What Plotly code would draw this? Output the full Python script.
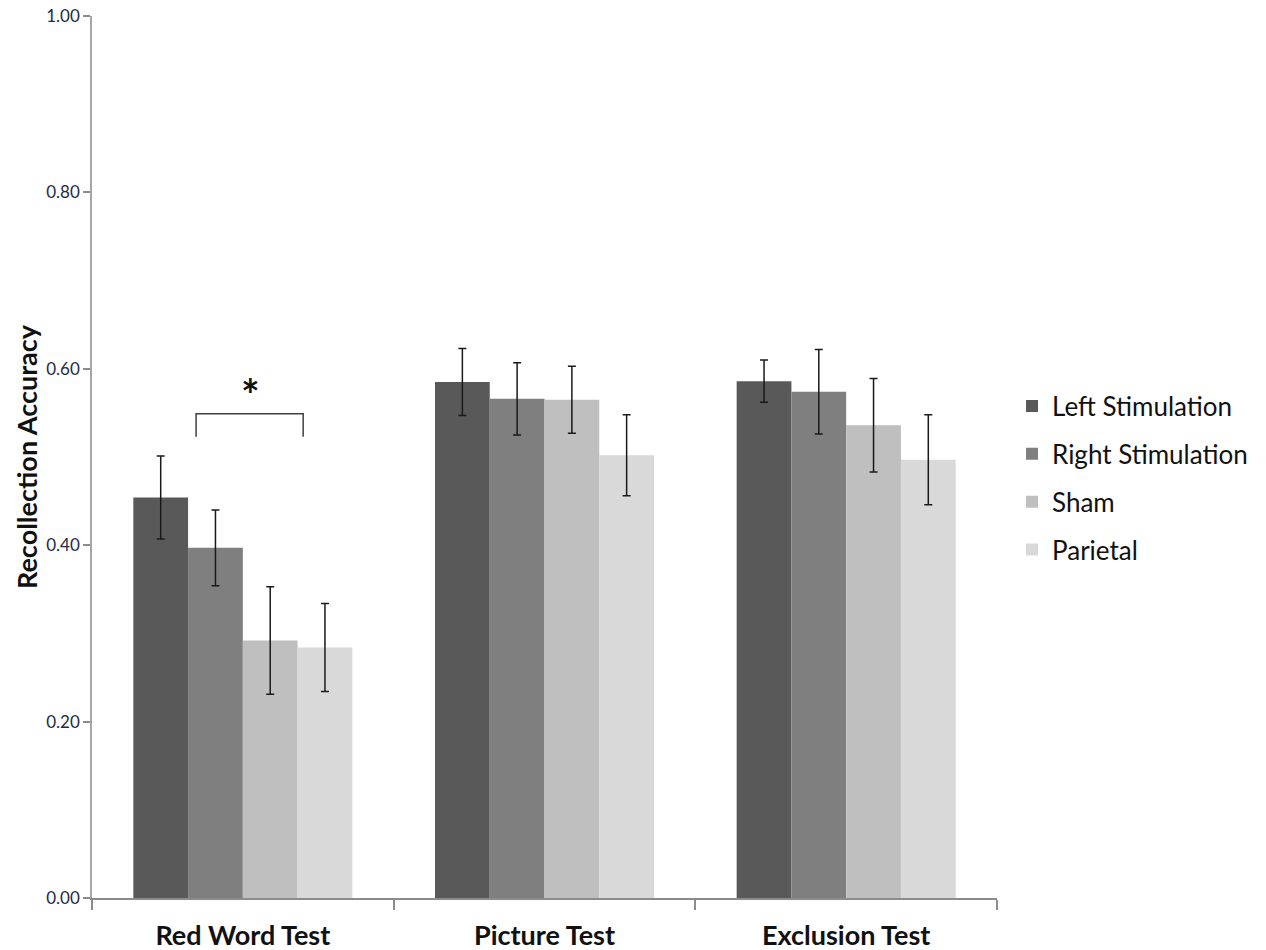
import plotly.graph_objects as go

# Test conditions and stimulation groups
tests = ["Red Word Test", "Picture Test", "Exclusion Test"]
groups = ["Left Stimulation", "Right Stimulation", "Sham", "Parietal"]

# Mean recollection accuracy per group (one value per test)
left_mean = [0.454, 0.585, 0.586]
right_mean = [0.397, 0.566, 0.574]
sham_mean = [0.292, 0.565, 0.536]
parietal_mean = [0.284, 0.502, 0.497]

# Standard error per group
left_se = [0.047, 0.038, 0.024]
right_se = [0.043, 0.041, 0.048]
sham_se = [0.061, 0.038, 0.053]
parietal_se = [0.050, 0.046, 0.051]

means = [left_mean, right_mean, sham_mean, parietal_mean]
errors = [left_se, right_se, sham_se, parietal_se]
colors = ["#595959", "#7f7f7f", "#bfbfbf", "#d9d9d9"]

FONT = "Lato"

fig = go.Figure()
for name, m, e, c in zip(groups, means, errors, colors):
    fig.add_trace(go.Bar(
        name=name,
        x=tests,
        y=m,
        legendgroup=name,
        marker=dict(color=c, line=dict(width=0)),
        error_y=dict(type="data", array=e, visible=True,
                     color="#1a1a1a", thickness=1.5, width=4),
    ))

# Significance bracket over the Red Word Test groups
fig.add_shape(type="path", xref="x", yref="y",
              path="M -0.155,0.523 L -0.155,0.549 L 0.2,0.549 L 0.2,0.523",
              line=dict(color="#404040", width=1.5))
fig.add_annotation(x=0.025, y=0.571, xref="x", yref="y", text="<b>*</b>",
                   showarrow=False, font=dict(family=FONT, size=44, color="#111111"))

fig.update_layout(
    width=1266, height=950,
    margin=dict(l=92, r=269, t=16, b=52, autoexpand=False),
    paper_bgcolor="white", plot_bgcolor="white",
    barmode="group", bargap=0.274, bargroupgap=0,
    font=dict(family=FONT, color="#1a1a1a"),
    showlegend=True,
    legend=dict(x=1.0166, y=0.476, xanchor="left", yanchor="middle",
                font=dict(family=FONT, size=26, color="#111111"),
                traceorder="grouped", tracegroupgap=11,
                bgcolor="rgba(0,0,0,0)"),
    xaxis=dict(showline=True, linecolor="#8c8c8c", linewidth=1.5,
               ticks="outside", tickson="boundaries", ticklen=10,
               tickcolor="#8c8c8c", tickwidth=1.5, automargin=False,
               tickfont=dict(family=FONT, size=27, color="#111111", weight="bold"),
               ticklabelstandoff=13,
               showgrid=False, zeroline=False),
    yaxis=dict(range=[0, 1], tickvals=[0, 0.2, 0.4, 0.6, 0.8, 1.0],
               tickformat=".2f", showline=True, linecolor="#a6a6a6", linewidth=1.5,
               ticks="outside", ticklen=7, tickcolor="#8c8c8c", tickwidth=1.5,
               automargin=False,
               tickfont=dict(family=FONT, size=17, color="#1f2a44"),
               showgrid=False, zeroline=False,
               title=dict(text="<b>Recollection Accuracy</b>",
                          font=dict(family=FONT, size=27, color="#111111"),
                          standoff=1)),
)

fig.write_html("out.html")
